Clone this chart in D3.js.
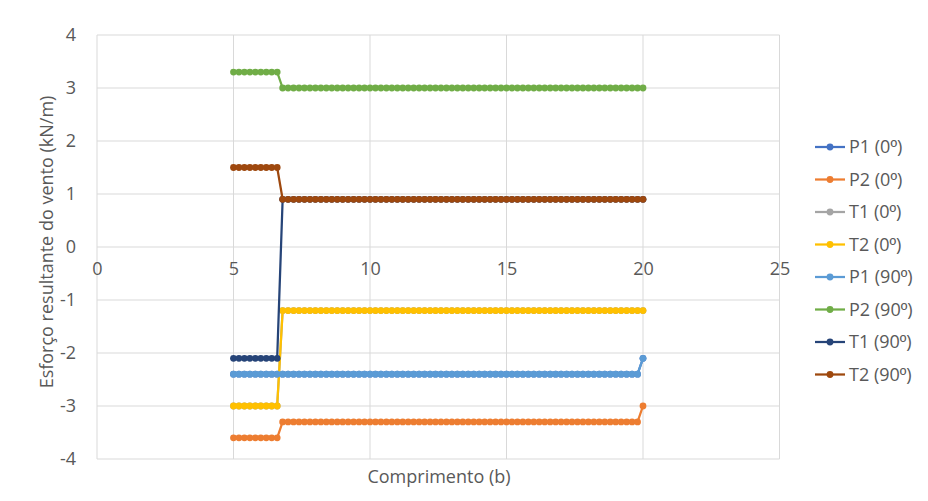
<!DOCTYPE html>
<html>
<head>
<meta charset="utf-8">
<script src="https://cdn.jsdelivr.net/npm/d3@7"></script>
<style>
  html, body { margin: 0; padding: 0; background: #fff; }
  svg { display: block; font-family: "Open Sans", "Noto Sans", sans-serif; }
</style>
</head>
<body>
<svg id="chart" width="928" height="501"></svg>
<script>
// Positions along the element (b)
const comprimento = [
  5, 5.2, 5.4, 5.6, 5.8, 6, 6.2, 6.4, 6.6,
  6.8, 7, 7.2, 7.4, 7.6, 7.8, 8, 8.2, 8.4, 8.6, 8.8,
  9, 9.2, 9.4, 9.6, 9.8, 10, 10.2, 10.4, 10.6, 10.8,
  11, 11.2, 11.4, 11.6, 11.8, 12, 12.2, 12.4, 12.6, 12.8,
  13, 13.2, 13.4, 13.6, 13.8, 14, 14.2, 14.4, 14.6, 14.8,
  15, 15.2, 15.4, 15.6, 15.8, 16, 16.2, 16.4, 16.6, 16.8,
  17, 17.2, 17.4, 17.6, 17.8, 18, 18.2, 18.4, 18.6, 18.8,
  19, 19.2, 19.4, 19.6, 19.8, 20
];

// Resulting wind load per series (kN/m)
const p1_0 = [
  -2.4, -2.4, -2.4, -2.4, -2.4, -2.4, -2.4, -2.4, -2.4,
  -2.4, -2.4, -2.4, -2.4, -2.4, -2.4, -2.4, -2.4, -2.4, -2.4, -2.4,
  -2.4, -2.4, -2.4, -2.4, -2.4, -2.4, -2.4, -2.4, -2.4, -2.4,
  -2.4, -2.4, -2.4, -2.4, -2.4, -2.4, -2.4, -2.4, -2.4, -2.4,
  -2.4, -2.4, -2.4, -2.4, -2.4, -2.4, -2.4, -2.4, -2.4, -2.4,
  -2.4, -2.4, -2.4, -2.4, -2.4, -2.4, -2.4, -2.4, -2.4, -2.4,
  -2.4, -2.4, -2.4, -2.4, -2.4, -2.4, -2.4, -2.4, -2.4, -2.4,
  -2.4, -2.4, -2.4, -2.4, -2.4, -2.1
];
const p2_0 = [
  -3.6, -3.6, -3.6, -3.6, -3.6, -3.6, -3.6, -3.6, -3.6,
  -3.3, -3.3, -3.3, -3.3, -3.3, -3.3, -3.3, -3.3, -3.3, -3.3, -3.3,
  -3.3, -3.3, -3.3, -3.3, -3.3, -3.3, -3.3, -3.3, -3.3, -3.3,
  -3.3, -3.3, -3.3, -3.3, -3.3, -3.3, -3.3, -3.3, -3.3, -3.3,
  -3.3, -3.3, -3.3, -3.3, -3.3, -3.3, -3.3, -3.3, -3.3, -3.3,
  -3.3, -3.3, -3.3, -3.3, -3.3, -3.3, -3.3, -3.3, -3.3, -3.3,
  -3.3, -3.3, -3.3, -3.3, -3.3, -3.3, -3.3, -3.3, -3.3, -3.3,
  -3.3, -3.3, -3.3, -3.3, -3.3, -3.0
];
const t1_0 = [
  -3.0, -3.0, -3.0, -3.0, -3.0, -3.0, -3.0, -3.0, -3.0,
  -1.2, -1.2, -1.2, -1.2, -1.2, -1.2, -1.2, -1.2, -1.2, -1.2, -1.2,
  -1.2, -1.2, -1.2, -1.2, -1.2, -1.2, -1.2, -1.2, -1.2, -1.2,
  -1.2, -1.2, -1.2, -1.2, -1.2, -1.2, -1.2, -1.2, -1.2, -1.2,
  -1.2, -1.2, -1.2, -1.2, -1.2, -1.2, -1.2, -1.2, -1.2, -1.2,
  -1.2, -1.2, -1.2, -1.2, -1.2, -1.2, -1.2, -1.2, -1.2, -1.2,
  -1.2, -1.2, -1.2, -1.2, -1.2, -1.2, -1.2, -1.2, -1.2, -1.2,
  -1.2, -1.2, -1.2, -1.2, -1.2, -1.2
];
const t2_0 = [
  -3.0, -3.0, -3.0, -3.0, -3.0, -3.0, -3.0, -3.0, -3.0,
  -1.2, -1.2, -1.2, -1.2, -1.2, -1.2, -1.2, -1.2, -1.2, -1.2, -1.2,
  -1.2, -1.2, -1.2, -1.2, -1.2, -1.2, -1.2, -1.2, -1.2, -1.2,
  -1.2, -1.2, -1.2, -1.2, -1.2, -1.2, -1.2, -1.2, -1.2, -1.2,
  -1.2, -1.2, -1.2, -1.2, -1.2, -1.2, -1.2, -1.2, -1.2, -1.2,
  -1.2, -1.2, -1.2, -1.2, -1.2, -1.2, -1.2, -1.2, -1.2, -1.2,
  -1.2, -1.2, -1.2, -1.2, -1.2, -1.2, -1.2, -1.2, -1.2, -1.2,
  -1.2, -1.2, -1.2, -1.2, -1.2, -1.2
];
const p1_90 = [
  -2.4, -2.4, -2.4, -2.4, -2.4, -2.4, -2.4, -2.4, -2.4,
  -2.4, -2.4, -2.4, -2.4, -2.4, -2.4, -2.4, -2.4, -2.4, -2.4, -2.4,
  -2.4, -2.4, -2.4, -2.4, -2.4, -2.4, -2.4, -2.4, -2.4, -2.4,
  -2.4, -2.4, -2.4, -2.4, -2.4, -2.4, -2.4, -2.4, -2.4, -2.4,
  -2.4, -2.4, -2.4, -2.4, -2.4, -2.4, -2.4, -2.4, -2.4, -2.4,
  -2.4, -2.4, -2.4, -2.4, -2.4, -2.4, -2.4, -2.4, -2.4, -2.4,
  -2.4, -2.4, -2.4, -2.4, -2.4, -2.4, -2.4, -2.4, -2.4, -2.4,
  -2.4, -2.4, -2.4, -2.4, -2.4, -2.1
];
const p2_90 = [
  3.3, 3.3, 3.3, 3.3, 3.3, 3.3, 3.3, 3.3, 3.3,
  3.0, 3.0, 3.0, 3.0, 3.0, 3.0, 3.0, 3.0, 3.0, 3.0, 3.0,
  3.0, 3.0, 3.0, 3.0, 3.0, 3.0, 3.0, 3.0, 3.0, 3.0,
  3.0, 3.0, 3.0, 3.0, 3.0, 3.0, 3.0, 3.0, 3.0, 3.0,
  3.0, 3.0, 3.0, 3.0, 3.0, 3.0, 3.0, 3.0, 3.0, 3.0,
  3.0, 3.0, 3.0, 3.0, 3.0, 3.0, 3.0, 3.0, 3.0, 3.0,
  3.0, 3.0, 3.0, 3.0, 3.0, 3.0, 3.0, 3.0, 3.0, 3.0,
  3.0, 3.0, 3.0, 3.0, 3.0, 3.0
];
const t1_90 = [
  -2.1, -2.1, -2.1, -2.1, -2.1, -2.1, -2.1, -2.1, -2.1,
  0.9, 0.9, 0.9, 0.9, 0.9, 0.9, 0.9, 0.9, 0.9, 0.9, 0.9,
  0.9, 0.9, 0.9, 0.9, 0.9, 0.9, 0.9, 0.9, 0.9, 0.9,
  0.9, 0.9, 0.9, 0.9, 0.9, 0.9, 0.9, 0.9, 0.9, 0.9,
  0.9, 0.9, 0.9, 0.9, 0.9, 0.9, 0.9, 0.9, 0.9, 0.9,
  0.9, 0.9, 0.9, 0.9, 0.9, 0.9, 0.9, 0.9, 0.9, 0.9,
  0.9, 0.9, 0.9, 0.9, 0.9, 0.9, 0.9, 0.9, 0.9, 0.9,
  0.9, 0.9, 0.9, 0.9, 0.9, 0.9
];
const t2_90 = [
  1.5, 1.5, 1.5, 1.5, 1.5, 1.5, 1.5, 1.5, 1.5,
  0.9, 0.9, 0.9, 0.9, 0.9, 0.9, 0.9, 0.9, 0.9, 0.9, 0.9,
  0.9, 0.9, 0.9, 0.9, 0.9, 0.9, 0.9, 0.9, 0.9, 0.9,
  0.9, 0.9, 0.9, 0.9, 0.9, 0.9, 0.9, 0.9, 0.9, 0.9,
  0.9, 0.9, 0.9, 0.9, 0.9, 0.9, 0.9, 0.9, 0.9, 0.9,
  0.9, 0.9, 0.9, 0.9, 0.9, 0.9, 0.9, 0.9, 0.9, 0.9,
  0.9, 0.9, 0.9, 0.9, 0.9, 0.9, 0.9, 0.9, 0.9, 0.9,
  0.9, 0.9, 0.9, 0.9, 0.9, 0.9
];

const seriesNames = ["P1 (0º)", "P2 (0º)", "T1 (0º)", "T2 (0º)", "P1 (90º)", "P2 (90º)", "T1 (90º)", "T2 (90º)"];
const seriesValues = [p1_0, p2_0, t1_0, t2_0, p1_90, p2_90, t1_90, t2_90];
const seriesColors = ["#4472C4", "#ED7D31", "#A5A5A5", "#FFC000", "#5B9BD5", "#70AD47", "#264478", "#9E480E"];

const xTicks = [0, 5, 10, 15, 20, 25];
const yTicks = [-4, -3, -2, -1, 0, 1, 2, 3, 4];

const xTitle = "Comprimento (b)";
const yTitle = "Esforço resultante do vento (kN/m)";

const svg = d3.select("#chart");
const textColor = "#595959";
const gridColor = "#d9d9d9";
const fontSize = "18px";

const x = d3.scaleLinear().domain([0, 25]).range([97, 779.5]);
const y = d3.scaleLinear().domain([-4, 4]).range([459, 35]);

// Plain hyphen for negatives, as in the spreadsheet labels
const fmt = d => String(d);

// Gridlines
const grid = svg.append("g");
grid.selectAll("line.h").data(yTicks).join("line")
  .attr("x1", x(0)).attr("x2", x(25))
  .attr("y1", d => y(d)).attr("y2", d => y(d))
  .attr("stroke", gridColor).attr("stroke-width", 1);
grid.selectAll("line.v").data(xTicks).join("line")
  .attr("y1", y(-4)).attr("y2", y(4))
  .attr("x1", d => x(d)).attr("x2", d => x(d))
  .attr("stroke", gridColor).attr("stroke-width", 1);

// Y axis labels
const yAxis = d3.axisLeft(y).tickValues(yTicks).tickSize(0).tickPadding(0).tickFormat(fmt);
svg.append("g")
  .attr("transform", `translate(${x(0) - 21},0)`)
  .call(yAxis)
  .call(g => g.select(".domain").remove())
  .call(g => g.selectAll("text")
    .attr("fill", textColor)
    .style("font-size", fontSize)
    .style("font-family", "'Open Sans', sans-serif"));

// X axis labels, placed beside the horizontal axis at zero
const xAxis = d3.axisBottom(x).tickValues(xTicks).tickSize(0).tickPadding(0).tickFormat(fmt);
svg.append("g")
  .attr("transform", `translate(0,${y(0) + 15})`)
  .call(xAxis)
  .call(g => g.select(".domain").remove())
  .call(g => g.selectAll("text")
    .attr("fill", textColor)
    .style("font-size", fontSize)
    .style("font-family", "'Open Sans', sans-serif"));

// Axis titles
svg.append("text")
  .attr("x", 439).attr("y", 483)
  .attr("text-anchor", "middle")
  .attr("fill", textColor)
  .style("font-size", fontSize)
  .text(xTitle);

svg.append("text")
  .attr("transform", `translate(53,242) rotate(-90)`)
  .attr("text-anchor", "middle")
  .attr("fill", textColor)
  .style("font-size", fontSize)
  .text(yTitle);

// Series: line then markers, in series order
const line = d3.line().x((d, i) => x(comprimento[i])).y(d => y(d));
const plot = svg.append("g");
seriesValues.forEach((vals, s) => {
  const g = plot.append("g");
  g.append("path")
    .datum(vals)
    .attr("d", line)
    .attr("fill", "none")
    .attr("stroke", seriesColors[s])
    .attr("stroke-width", 2.25)
    .attr("stroke-linejoin", "round");
  g.selectAll("circle").data(vals).join("circle")
    .attr("cx", (d, i) => x(comprimento[i]))
    .attr("cy", d => y(d))
    .attr("r", 3.4)
    .attr("fill", seriesColors[s]);
});

// Legend
const legend = svg.append("g");
const legendTop = 147, legendStep = 32.5;
seriesNames.forEach((name, s) => {
  const ly = legendTop + s * legendStep;
  legend.append("line")
    .attr("x1", 815).attr("x2", 845)
    .attr("y1", ly).attr("y2", ly)
    .attr("stroke", seriesColors[s]).attr("stroke-width", 2.25);
  legend.append("circle")
    .attr("cx", 830).attr("cy", ly).attr("r", 3.4)
    .attr("fill", seriesColors[s]);
  // ordinal sign drawn in a face that underlines it
  const parts = name.split("º");
  const t = legend.append("text")
    .attr("x", 849).attr("y", ly)
    .attr("dy", "0.35em")
    .attr("fill", textColor)
    .style("font-size", fontSize);
  t.append("tspan").text(parts[0]);
  t.append("tspan").style("font-family", "'Liberation Sans', 'DejaVu Sans', sans-serif").text("º");
  t.append("tspan").text(parts[1]);
});
</script>
</body>
</html>
